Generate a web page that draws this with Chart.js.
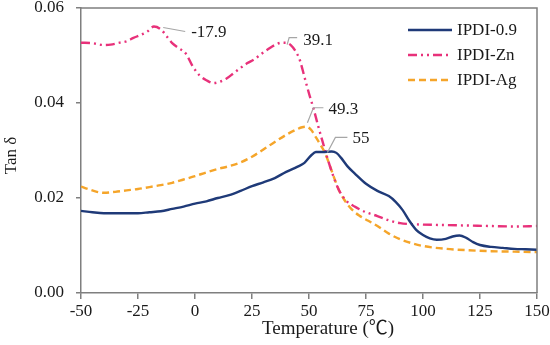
<!DOCTYPE html>
<html>
<head>
<meta charset="utf-8">
<script src="https://cdn.jsdelivr.net/npm/chart.js@4.4.1/dist/chart.umd.min.js"></script>
<style>
  html, body { margin: 0; padding: 0; background: #ffffff; }
  #wrap { width: 550px; height: 345px; position: relative; }
</style>
</head>
<body>
<div id="wrap"><canvas id="c" width="550" height="345"></canvas></div>
<script>
// ---- data ----
const xTicks = [-50, -25, 0, 25, 50, 75, 100, 125, 150];
const yTicks = [0.00, 0.02, 0.04, 0.06];
const seriesNames = ["IPDI-0.9", "IPDI-Zn", "IPDI-Ag"];
const xTitle = "Temperature (\u2103)";
const yTitle = "Tan \u03b4";

const temp09 = [-50,-45,-40,-35,-30,-25,-20,-15,-10,-5,0,5,10,15,20,25,30,35,40,45,48,51,53,56,60,62,64,67,70,75,80,85,88,91,94,97,100,103,106,110,113,116,119,122,125,130,135,140,145,150];
const tan09  = [0.0173,0.0170,0.0168,0.0168,0.0168,0.0168,0.0170,0.0172,0.0177,0.0182,0.0188,0.0193,0.0200,0.0206,0.0215,0.0225,0.0233,0.0242,0.0255,0.0266,0.0274,0.0290,0.0297,0.0297,0.0298,0.0295,0.0285,0.0266,0.0252,0.0230,0.0215,0.0204,0.0192,0.0175,0.0152,0.0133,0.0122,0.0115,0.0112,0.0114,0.0119,0.0121,0.0116,0.0107,0.0101,0.0097,0.0095,0.0093,0.0092,0.0091];

const tempZn = [-50,-45,-40,-37,-33,-30,-27,-24,-21,-18,-15,-12,-10,-7,-4,-1,2,5,8,11,14,17,20,23,26,29,32,35,38,40,42,44,46,48,50,52,54,56,58,60,63,66,70,75,80,85,90,95,100,110,120,130,140,150];
const tanZn  = [0.0527,0.0526,0.0522,0.0523,0.0527,0.0530,0.0537,0.0543,0.0550,0.0561,0.0555,0.0538,0.0526,0.0515,0.0504,0.0477,0.0458,0.0448,0.0442,0.0445,0.0452,0.0463,0.0474,0.0484,0.0492,0.0503,0.0513,0.0522,0.0527,0.0527,0.0522,0.0510,0.0490,0.0455,0.0420,0.0388,0.0352,0.0318,0.0285,0.0255,0.0218,0.0196,0.0182,0.0170,0.0162,0.0153,0.0147,0.0145,0.0144,0.0143,0.0142,0.0141,0.0140,0.0141];

const tempAg = [-50,-47,-43,-40,-35,-30,-25,-20,-15,-10,-5,0,5,10,15,20,25,30,35,40,44,47,49,51,53,55,57,59,61,63,65,68,72,76,80,85,90,95,100,110,120,130,140,150];
const tanAg  = [0.0224,0.0219,0.0213,0.0211,0.0213,0.0216,0.0219,0.0223,0.0227,0.0232,0.0239,0.0246,0.0254,0.0261,0.0267,0.0275,0.0287,0.0302,0.0318,0.0333,0.0343,0.0349,0.0350,0.0343,0.0328,0.0312,0.0295,0.0270,0.0243,0.0218,0.0200,0.0180,0.0163,0.0152,0.0141,0.0125,0.0113,0.0105,0.0099,0.0093,0.0090,0.0088,0.0087,0.0086];

// peak annotations: label text and the peak they point at (data units)
const peakText  = ["-17.9", "39.1", "49.3", "55"];
const peakTemp  = [-17.9, 39.1, 49.3, 55];
const peakValue = [0.0561, 0.0527, 0.0350, 0.0298];

// ---- styling (kept separate from data) ----
const FONT = "'Liberation Serif', 'Times New Roman', serif";
const AXIS_COLOR = "#7f7f7f";
const TEXT_COLOR = "#1a1a1a";
const styles = [
  { color: "#1f3a78", dash: [] },
  { color: "#e8317a", dash: [9, 4, 2, 4, 2, 4] },
  { color: "#f5a52a", dash: [7, 4] }
];
const peakLeaders = [
  { pts: [[9, 1], [31, 5]], label: [37, 6] },
  { pts: [[3, 2], [5, -5], [13, -5]], label: [19, -2] },
  { pts: [[0, -4], [6, -19], [16, -19]], label: [21, -17] },
  { pts: [[7, 1], [15, -14], [27, -14]], label: [32, -13] }
];

const xs = [temp09, tempZn, tempAg];
const ys = [tan09, tanZn, tanAg];

const datasets = seriesNames.map((name, i) => ({
  label: name,
  data: xs[i].map((t, k) => ({ x: t, y: ys[i][k] })),
  borderColor: styles[i].color,
  backgroundColor: styles[i].color,
  borderDash: styles[i].dash,
  borderWidth: 2.4,
  pointRadius: 0,
  fill: false,
  cubicInterpolationMode: 'monotone'
}));

const framePlugin = {
  id: 'frame',
  afterDatasetsDraw(chart) {
    const { ctx, chartArea: a, scales } = chart;
    ctx.save();
    ctx.strokeStyle = AXIS_COLOR;
    ctx.lineWidth = 1.5;
    ctx.beginPath();
    ctx.moveTo(a.left, a.top);
    ctx.lineTo(a.right, a.top);
    ctx.lineTo(a.right, a.bottom);
    ctx.stroke();

    ctx.font = "17px " + FONT;
    ctx.textBaseline = 'middle';
    ctx.textAlign = 'left';
    peakText.forEach((txt, i) => {
      const px = scales.x.getPixelForValue(peakTemp[i]);
      const py = scales.y.getPixelForValue(peakValue[i]);
      const L = peakLeaders[i];
      ctx.strokeStyle = "#a6a6a6";
      ctx.lineWidth = 1.2;
      ctx.setLineDash([]);
      ctx.beginPath();
      L.pts.forEach((p, k) => {
        if (k === 0) ctx.moveTo(px + p[0], py + p[1]);
        else ctx.lineTo(px + p[0], py + p[1]);
      });
      ctx.stroke();
      ctx.fillStyle = TEXT_COLOR;
      ctx.fillText(txt, px + L.label[0], py + L.label[1]);
    });

    // legend inside plot
    const lx0 = 408, lx1 = 452, tx = 457;
    const rowY = [30, 55, 80];
    seriesNames.forEach((name, i) => {
      ctx.strokeStyle = styles[i].color;
      ctx.lineWidth = 2.4;
      ctx.setLineDash(styles[i].dash);
      ctx.beginPath();
      ctx.moveTo(lx0, rowY[i]);
      ctx.lineTo(lx1, rowY[i]);
      ctx.stroke();
      ctx.setLineDash([]);
      ctx.fillStyle = TEXT_COLOR;
      ctx.fillText(name, tx, rowY[i] + 1);
    });

    // x axis title
    ctx.font = "19px " + FONT + ", 'Noto Sans CJK SC'";
    ctx.textAlign = 'center';
    ctx.fillStyle = TEXT_COLOR;
    ctx.fillText(xTitle, (a.left + a.right) / 2 + 19, 329);

    // y axis title
    ctx.font = "17px " + FONT;
    ctx.translate(12, (a.top + a.bottom) / 2 + 5);
    ctx.rotate(-Math.PI / 2);
    ctx.fillText(yTitle, 0, 0);
    ctx.restore();
  }
};

new Chart(document.getElementById('c'), {
  type: 'line',
  data: { datasets },
  options: {
    responsive: false,
    animation: false,
    layout: { padding: { left: 0, right: 13, top: 8, bottom: 0 } },
    plugins: { legend: { display: false }, tooltip: { enabled: false } },
    scales: {
      x: {
        type: 'linear',
        min: -50, max: 150,
        afterBuildTicks: s => { s.ticks = xTicks.map(v => ({ value: v })); },
        afterFit: s => { s.height = 52; s.paddingLeft = 0; s.paddingRight = 0; },
        ticks: {
          color: TEXT_COLOR,
          font: { family: FONT, size: 17 },
          padding: 2,
          maxRotation: 0,
          callback: v => String(v)
        },
        grid: { drawOnChartArea: false, drawTicks: true, tickLength: 6, color: AXIS_COLOR, lineWidth: 1.5 },
        border: { color: AXIS_COLOR, width: 1.5 }
      },
      y: {
        type: 'linear',
        min: 0, max: 0.06,
        afterBuildTicks: s => { s.ticks = yTicks.map(v => ({ value: v })); },
        afterFit: s => { s.width = 81; s.paddingTop = 0; s.paddingBottom = 0; },
        ticks: {
          color: TEXT_COLOR,
          font: { family: FONT, size: 17 },
          padding: 12,
          callback: v => Number(v).toFixed(2)
        },
        grid: { drawOnChartArea: false, drawTicks: true, tickLength: 5, color: AXIS_COLOR, lineWidth: 1.5 },
        border: { color: AXIS_COLOR, width: 1.5 }
      }
    }
  },
  plugins: [framePlugin]
});
</script>
</body>
</html>
